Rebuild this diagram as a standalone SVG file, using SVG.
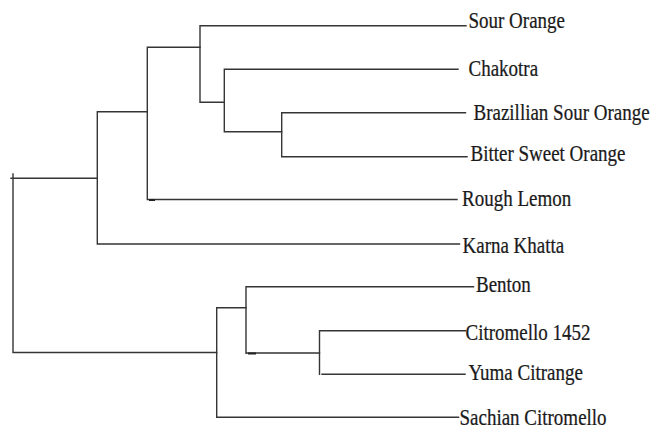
<svg xmlns="http://www.w3.org/2000/svg" width="655" height="430" viewBox="0 0 655 430">
<style>
.bg{fill:#ffffff}
.ln{fill:none;stroke:#353535;stroke-width:1.4;stroke-linecap:square}
.tk{fill:none;stroke:#222;stroke-width:2.2}
.lb{font-family:"Liberation Serif","Times New Roman",serif;font-size:19px;fill:#1a1a1a;stroke:#1a1a1a;stroke-width:0.2}
</style>
<rect class="bg" x="0" y="0" width="655" height="430"/>
<g id="connectors">
<path class="ln" d="M11,178.3 H97.3 M13,174 V352.5 M13,352.5 H216.7"/>
<path class="ln" d="M97.3,111.7 V244 M97.3,111.7 H147.3 M97.3,244 H459.5"/>
<path class="ln" d="M147.3,47.3 V199.5 M147.3,47.3 H200 M147.3,199.5 H457"/>
<path class="ln" d="M200,25.7 V102.3 M200,25.7 H466 M200,102.3 H224.3"/>
<path class="ln" d="M224.3,69.3 V131.7 M224.3,69.3 H458 M224.3,131.7 H281.7"/>
<path class="ln" d="M281.7,112.7 V156.7 M281.7,112.7 H465.5 M281.7,156.7 H467"/>
<path class="ln" d="M216.7,307.7 V417.3 M216.7,307.7 H246 M216.7,417.3 H458.5"/>
<path class="ln" d="M246,286.7 V353.3 M246,286.7 H473.5 M246,353 H319.5"/>
<path class="ln" d="M319.5,330.7 V374.3 M319.5,330.7 H465.5 M322,374.3 H465"/>
<path class="tk" d="M149,200 H155 M248,353.5 H256"/>
</g>
<g id="sour-orange"><text class="lb" transform="translate(468.5 27.5) scale(1 1.2)">Sour Orange</text></g>
<g id="chakotra"><text class="lb" transform="translate(468.5 76) scale(1 1.2)">Chakotra</text></g>
<g id="brazillian-sour-orange"><text class="lb" transform="translate(473.5 120) scale(1 1.2)">Brazillian Sour Orange</text></g>
<g id="bitter-sweet-orange"><text class="lb" transform="translate(470.5 161) scale(1 1.2)">Bitter Sweet Orange</text></g>
<g id="rough-lemon"><text class="lb" transform="translate(462 206) scale(1 1.2)">Rough Lemon</text></g>
<g id="karna-khatta"><text class="lb" transform="translate(462.5 252.5) scale(1 1.2)">Karna Khatta</text></g>
<g id="benton"><text class="lb" transform="translate(476 292) scale(1 1.2)">Benton</text></g>
<g id="citromello-1452"><text class="lb" transform="translate(465.5 339.5) scale(1 1.2)">Citromello 1452</text></g>
<g id="yuma-citrange"><text class="lb" transform="translate(468.5 380) scale(1 1.2)">Yuma Citrange</text></g>
<g id="sachian-citromello"><text class="lb" transform="translate(459.5 424.5) scale(1 1.2)">Sachian Citromello</text></g>
</svg>
